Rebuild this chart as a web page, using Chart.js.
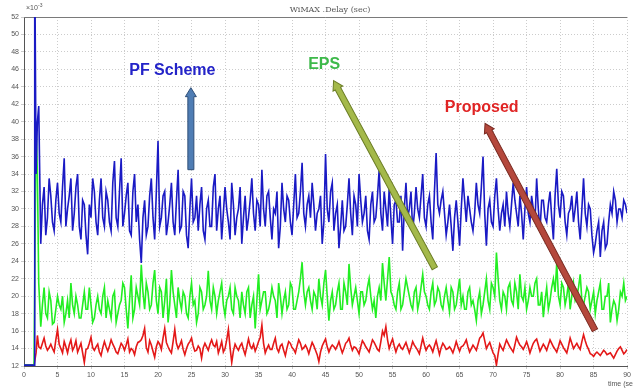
<!DOCTYPE html>
<html>
<head>
<meta charset="utf-8">
<script src="https://cdn.jsdelivr.net/npm/chart.js@4/dist/chart.umd.min.js"></script>
<style>
  html, body { margin: 0; padding: 0; background: #fff; }
  #c { display: block; }
</style>
</head>
<body>
<canvas id="c" width="633" height="389"></canvas>
<script>
// Simulation time (sec): start-up samples, then a regular 0.5 s grid up to 90 s,
// with an extra sample recorded halfway through each grid interval
const startTimes = [0, 1.5, 1.6, 1.8, 2.0, 2.2];
const gridStart = 2.5, gridStep = 0.5, gridCount = 176;

// WiMAX delay (x10^-3 sec) per scheme: start-up + on-grid samples
const pfDelay = [
  12.1, 12.1, 60, 34, 40, 41.8,
  26, 32.5, 29, 31.5, 27.5, 33, 28.5, 35.8, 30, 33.5,
  29.5, 34, 26.5, 30.5, 24.8, 29, 32, 27, 33.5, 28,
  31, 27.5, 35.5, 28, 35.8, 29.5, 33, 27, 34, 30.5,
  23.8, 31, 28, 33.5, 26.5, 37.8, 29, 32, 28.5, 33,
  27, 34.5, 28, 31.5, 25.5, 33.5, 29, 27.5, 32.5, 26.5,
  31, 28, 34, 30, 26.5, 32.5, 28.5, 33, 27, 30,
  26, 31.5, 29, 33.5, 27.5, 30.5, 34.5, 28, 32, 26.5,
  29.5, 25.5, 33, 28.5, 31, 27, 34, 29.5, 35.3, 28,
  31.5, 33, 27.5, 30, 26, 36.3, 28.5, 33, 29.5, 25.5,
  31, 28, 33.5, 27, 30.5, 34, 28.5, 31.5, 26.5, 32,
  29, 34.5, 27.5, 30, 32.5, 26, 31, 28.5, 25.2, 33,
  30, 27.5, 32.5, 29, 34, 28, 31.5, 26.5, 36.4, 29.5,
  32, 27, 30.5, 25.2, 31, 25.8, 33.5, 28.5, 30, 27.5,
  33, 29.5, 36, 25.8, 31, 28, 33.5, 27.5, 30.5, 32,
  28, 33, 29.5, 31.5, 26.5, 32.5, 28.5, 30, 33.5, 27.5,
  31, 28.5, 32, 26.5, 34.6, 29, 31.5, 27, 30, 28.5,
  32, 26.5, 33.5, 28, 30, 25, 27.5, 24.5, 28.5, 26,
  30.5, 32, 28.5, 30, 31, 29.5
];
// mid-interval samples (t = 2.75, 3.25, ... 89.75)
const pfDelayMid = [
  30.5, 27, 33.5, 28.5, 31, 29.5, 32.5, 28, 31.5, 27.5,
  32.5, 28, 31, 27, 30.5, 33.5, 28.5, 31, 29, 32,
  28.5, 33, 29, 32, 28, 31.5, 27.5, 32, 28.5, 26.5,
  29, 27, 31.5, 29, 32, 28, 31.5, 27, 30.5, 28.5,
  31, 27.5, 32, 27, 30, 28.5, 31.5, 30.5, 27.5, 30,
  28, 32.5, 27.5, 31.5, 29.5, 30, 26.5, 30.5, 29, 32.5,
  29, 27.5, 31, 29.5, 31, 28, 30, 31.5, 29, 30,
  32, 28, 30, 31.5, 28.5, 30.5, 29, 32, 29.5, 30.5,
  29, 30.5, 29.5, 31.5, 28.5, 30, 32, 27.5, 30.5, 28,
  27.5, 30.5, 29.5, 31.5, 28, 31, 29.5, 27.5, 30.5, 28.5,
  31.5, 29.5, 32, 28, 29, 30.5, 28.5, 31.5, 30, 29,
  32, 29.5, 30, 31.5, 29, 30.5, 28.5, 32, 30.5, 31,
  29.5, 28.5, 28, 29, 28.5, 30, 31, 31.5, 28.5, 29.5,
  30.5, 32.5, 29.5, 30, 28.5, 31.5, 30, 29.5, 28, 29.5,
  30.5, 31, 28, 29.5, 30, 29.5, 31.5, 28.5, 30, 31,
  29, 30.5, 29, 31.5, 30.5, 32, 28.5, 29.5, 31.5, 30,
  28.5, 30, 29.5, 30.5, 27, 26, 28.5, 27.5, 25.5, 28.5,
  29.5, 31, 30, 29, 30.5
];

const epsDelay = [
  12.1, 12.1, 12.1, 40, 34, 21.5,
  16.5, 21, 17.5, 19.5, 17, 20, 18.5, 17, 19.5, 21.5,
  18, 19, 17.5, 20.5, 18.5, 19, 17.5, 20, 18, 21,
  19.5, 17.5, 20.5, 18, 19.5, 21, 16.3, 22.4, 18.5, 20,
  23.6, 18.5, 20.5, 19, 23, 18, 20.5, 19.5, 17, 23,
  19, 21, 18.5, 20, 17.5, 21.5, 19.5, 18, 20.5, 19,
  22.9, 18.5, 20, 19.5, 21.5, 17.8, 20, 18.5, 21, 19.5,
  20.5, 18, 21, 19, 16.3, 22.5, 19.5, 20.5, 18.5, 21,
  19.5, 21.5, 18, 20.5, 19, 21, 18.5, 20.5, 23.9, 19,
  21, 18.5, 20, 22, 19, 23, 17.2, 20.5, 19, 21.5,
  18.5, 20.5, 23.7, 19, 21, 18, 20.5, 19.5, 22, 18.5,
  17.5, 21, 23.8, 19.5, 24.5, 20, 18.5, 21.5, 19, 22,
  20, 18.5, 21, 19.5, 22.5, 20, 18.5, 21.5, 19.5, 20.5,
  18.5, 21, 18.2, 20.5, 19, 22, 20, 18.5, 21, 19.5,
  17.2, 20.5, 19, 22, 18.5, 21, 25, 19.5, 20.5, 18.5,
  21.5, 19, 20.5, 22.5, 19.5, 18.5, 21, 20, 22, 19,
  17.6, 21, 19.5, 22, 23.8, 19, 21, 20, 18.5, 21.5,
  20, 22.5, 19, 21, 18.5, 20.5, 19.5, 21.5, 18.5, 20,
  17, 19.5, 17.2, 20.5, 21.5, 20
];
const epsDelayMid = [
  19, 18, 20.5, 16.8, 18.5, 19, 20, 18, 17.5, 19,
  20, 17.5, 19, 18.5, 21, 17, 19, 18.5, 20, 17.5,
  18.5, 20, 17, 19, 21.5, 18.5, 19.5, 17.5, 21, 19,
  20.5, 21.5, 18.5, 21.5, 19.5, 21, 17.5, 22, 19, 20.5,
  17.5, 19.5, 20.5, 18, 20, 19, 17, 21, 18.5, 20,
  19.5, 21, 18, 20.5, 19, 19.5, 21, 18, 20, 17.5,
  19, 20.5, 17.5, 20, 19.5, 18.5, 20.5, 18, 19.5, 20,
  17.5, 20, 19.5, 18.5, 21.5, 18.5, 19.5, 22, 20.5, 20.5,
  19.5, 20.5, 18.5, 20, 21.5, 20, 19.5, 18.5, 20.5, 18.5,
  21.5, 19, 21, 20, 19.5, 20.5, 19, 21, 20, 19.5,
  20, 19.5, 21.5, 22, 20.5, 19, 20.5, 18.5, 20.5, 21,
  19, 20.5, 18.5, 21, 20.5, 19, 20.5, 19, 21, 19,
  20, 19.5, 21, 18.5, 20.5, 19, 18.5, 20.5, 19, 18.5,
  19.5, 18, 20.5, 19.5, 21.5, 20, 22, 18.5, 20, 21,
  19.5, 21.5, 18.5, 20, 21, 19.5, 20, 21.5, 19, 20.5,
  19.5, 18.5, 21, 20.5, 20, 21.5, 19, 21.5, 20, 19.5,
  21, 19.5, 20, 20.5, 19.5, 18, 20.5, 18.5, 20, 21.5,
  18.5, 19, 18.5, 20, 19.5
];

const proposedDelay = [
  12.1, 12.1, 12.1, 13.5, 15.5, 14.2,
  14, 15.2, 13.8, 14.5, 13.6, 16.2, 14, 14.8, 13.5, 15,
  14.2, 13.6, 14.6, 12.4, 14, 15.3, 13.8, 14.5, 13.2, 14.8,
  13.7, 15, 14.1, 13.4, 14.6, 13.8, 15.1, 14, 13.3, 14.7,
  15, 16.3, 13.6, 14.4, 13, 14.8, 13.9, 16.3, 14.2, 13.5,
  16.2, 14, 14.9, 13.3, 14.5, 15.2, 13.7, 14.3, 12.9, 14.6,
  13.8, 15, 14.2, 13.5, 14.8, 14, 16.2, 12.4, 14.5, 13.8,
  14.6, 13.3, 15.1, 14, 13.7, 14.8, 16.7, 13.5, 14.4, 13.9,
  15.2, 13.6, 14.5, 13.2, 14.8, 14.1, 13.5, 15, 13.9, 14.4,
  13.4, 14.7, 13.8, 12.5, 14.3, 15.1, 13.6, 14.4, 13.9, 14.8,
  13.5, 14.6, 15.2, 13.8, 14.1, 13.4, 14.9, 14.2, 13.6, 15,
  14.3, 13.7, 16, 16.5, 14, 15.1, 13.6, 14.5, 13.9, 14.7,
  13.5, 14.8, 14.1, 13.4, 15.2, 13.8, 14.4, 13.6, 14.9, 13.3,
  14.6, 13.9, 14.2, 13.5, 14.8, 13.7, 14.3, 15, 13.6, 14.4,
  13.8, 15.2, 15.8, 14, 14.7, 13.5, 12.1, 14.5, 13.8, 15,
  14.2, 13.6, 15.3, 14.4, 13.9, 14.8, 13.5, 14.6, 15.1, 13.7,
  14.5, 13.8, 15, 14.2, 13.6, 14.9, 14.1, 13.5, 15.2, 14,
  14.6, 13.9, 15.6, 14.3, 13.4, 13.1, 13.6, 13.2, 13.8, 13.3,
  13.5, 12.9, 13.7, 14.2, 13.4, 13.9
];
const proposedDelayMid = [
  14.6, 14.3, 14.1, 14, 15, 14.5, 13.5, 14.2, 14.4, 13.8,
  14.9, 14.1, 13.5, 13.9, 14.6, 14.1, 14.2, 13.6, 14.1, 14.2,
  14.3, 14.5, 13.6, 14, 14.3, 14.4, 13.6, 13.8, 14.2, 14.8,
  15.5, 14.1, 14.9, 13.7, 14.2, 14.5, 15.2, 14.7, 13.8, 14.8,
  14.6, 14.4, 13.9, 14, 14.8, 14.3, 13.8, 14, 14.1, 14.2,
  14.5, 14.4, 14.8, 14.1, 13.6, 15, 14.1, 13.7, 14.1, 14.3,
  13.9, 14.2, 14.3, 14.5, 14.2, 15.3, 14.6, 14, 13.9, 14.6,
  14, 14.3, 13.8, 14.1, 14.6, 13.9, 14.3, 14.6, 14.1, 14,
  14.1, 14.3, 13.3, 13.6, 14.7, 14.2, 14.1, 14.2, 14.3, 14.1,
  14, 14.8, 14.4, 14.2, 13.8, 14.2, 14.6, 13.9, 14.3, 14.7,
  13.9, 14.8, 15.5, 15, 14.6, 14.3, 14.2, 14.1, 14.3, 14.1,
  14.1, 14.4, 13.8, 14.3, 14.4, 14.2, 14.1, 14.3, 14.1, 14.1,
  14.3, 14, 13.9, 14.1, 14.2, 14.2, 14.6, 14.2, 14, 14.1,
  14.5, 15.4, 14.9, 14.4, 14.1, 13.2, 13.4, 14.1, 14.4, 14.6,
  13.9, 14.4, 14.8, 14.2, 14.3, 14.2, 14.1, 14.9, 14.4, 14.1,
  14.2, 14.4, 14.6, 13.9, 14.2, 14.5, 13.8, 14.3, 14.6, 14.3,
  14.2, 14.8, 14.9, 13.9, 13.3, 13.4, 13.4, 13.5, 13.6, 13.4,
  13.2, 13.3, 14, 13.8, 13.6
];

// Axis ranges and tick spacing
const yRange = [12, 52], yStep = 2;
const xRange = [0, 90], xStep = 5;

// Callout labels and arrows, placed in data units (time, delay)
const callouts = [
  { text: 'PF Scheme', at: [15.7, 45.9], color: '#2323c8',
    arrow: { from: [24.9, 34.5], to: [24.9, 43.9], fill: '#4f7db4', edge: '#2f4f78' } },
  { text: 'EPS', at: [42.4, 46.5], color: '#3db94a',
    arrow: { from: [61.3, 23.2], to: [46.2, 44.7], fill: '#a4b94a', edge: '#6b7d25' } },
  { text: 'Proposed', at: [62.8, 41.6], color: '#e02424',
    arrow: { from: [85.2, 16.1], to: [68.8, 39.8], fill: '#b4483c', edge: '#7a2b22' } }
];

// Merge start-up, on-grid and mid-interval samples into one time-ordered series
function series(main, mid) {
  const pts = [];
  const n0 = startTimes.length;
  startTimes.forEach((t, i) => pts.push({ x: t, y: main[i] }));
  for (let i = 0; i < gridCount; i++) {
    const t = gridStart + gridStep * i;
    pts.push({ x: t, y: main[n0 + i] });
    if (i < mid.length) pts.push({ x: t + gridStep / 2, y: mid[i] });
  }
  return pts;
}

function drawArrow(ctx, x1, y1, x2, y2, fill, edge) {
  const ang = Math.atan2(y2 - y1, x2 - x1);
  const len = Math.hypot(x2 - x1, y2 - y1);
  const sw = 3, hw = 5.5, hl = 9;
  ctx.save();
  ctx.translate(x1, y1);
  ctx.rotate(ang);
  ctx.beginPath();
  ctx.moveTo(0, -sw);
  ctx.lineTo(len - hl, -sw);
  ctx.lineTo(len - hl, -hw);
  ctx.lineTo(len, 0);
  ctx.lineTo(len - hl, hw);
  ctx.lineTo(len - hl, sw);
  ctx.lineTo(0, sw);
  ctx.closePath();
  ctx.fillStyle = fill;
  ctx.fill();
  ctx.lineWidth = 1;
  ctx.strokeStyle = edge;
  ctx.stroke();
  ctx.restore();
}

const decorations = {
  id: 'decorations',
  beforeDatasetsDraw(chart) {
    const { ctx, chartArea: a } = chart;
    ctx.save();
    ctx.strokeStyle = '#7a7a7a';
    ctx.lineWidth = 1;
    ctx.beginPath();
    ctx.moveTo(a.left, a.top + 0.5);
    ctx.lineTo(a.right, a.top + 0.5);
    ctx.stroke();
    ctx.restore();
  },
  afterDatasetsDraw(chart) {
    const { ctx, chartArea: a, scales: { x, y } } = chart;
    ctx.save();
    callouts.forEach(c => {
      const ar = c.arrow;
      drawArrow(ctx, x.getPixelForValue(ar.from[0]), y.getPixelForValue(ar.from[1]),
                x.getPixelForValue(ar.to[0]), y.getPixelForValue(ar.to[1]), ar.fill, ar.edge);
    });
    ctx.font = 'bold 16px "Liberation Sans", Arial, sans-serif';
    ctx.textBaseline = 'middle';
    ctx.textAlign = 'left';
    callouts.forEach(c => {
      ctx.fillStyle = c.color;
      ctx.fillText(c.text, x.getPixelForValue(c.at[0]), y.getPixelForValue(c.at[1]));
    });

    // chart title, exponent note and time axis caption
    ctx.fillStyle = '#555';
    ctx.font = '8px "DejaVu Serif", serif';
    ctx.textAlign = 'center';
    ctx.textBaseline = 'alphabetic';
    ctx.fillText('WiMAX .Delay (sec)', 330, 12);
    ctx.textAlign = 'left';
    ctx.font = '7px "Liberation Sans", Arial, sans-serif';
    ctx.fillText('\u00d710', a.left + 2, 10);
    ctx.font = '5px "Liberation Sans", Arial, sans-serif';
    ctx.fillText('-3', a.left + 14, 7);
    ctx.font = '7px "Liberation Sans", Arial, sans-serif';
    ctx.fillText('time (sec)', 608, 386);
    ctx.restore();
  }
};

const tickFont = { family: '"Liberation Sans", Arial, sans-serif', size: 7 };

new Chart(document.getElementById('c'), {
  type: 'line',
  data: {
    datasets: [
      { label: 'PF Scheme', data: series(pfDelay, pfDelayMid), borderColor: '#1a1ac4', borderWidth: 1.6 },
      { label: 'EPS', data: series(epsDelay, epsDelayMid), borderColor: '#22ee22', borderWidth: 1.6 },
      { label: 'Proposed', data: series(proposedDelay, proposedDelayMid), borderColor: '#e41818', borderWidth: 1.6 }
    ]
  },
  options: {
    responsive: false,
    animation: false,
    devicePixelRatio: 1,
    elements: { point: { radius: 0 }, line: { tension: 0 } },
    layout: { padding: { top: 17, right: 2, left: 0, bottom: 0 } },
    plugins: { legend: { display: false }, tooltip: { enabled: false } },
    scales: {
      x: {
        type: 'linear', min: xRange[0], max: xRange[1],
        afterFit: s => { s.height = 23; },
        ticks: { stepSize: xStep, font: tickFont, color: '#555', maxRotation: 0, padding: 2 },
        grid: { color: '#cccccc', tickLength: 3 },
        border: { color: '#555', dash: [1, 2] }
      },
      y: {
        min: yRange[0], max: yRange[1],
        afterFit: s => { s.width = 24; },
        ticks: { stepSize: yStep, font: tickFont, color: '#555', padding: 2 },
        grid: { color: '#cccccc', tickLength: 3 },
        border: { color: '#555', dash: [1, 2] }
      }
    }
  },
  plugins: [decorations]
});
</script>
</body>
</html>
